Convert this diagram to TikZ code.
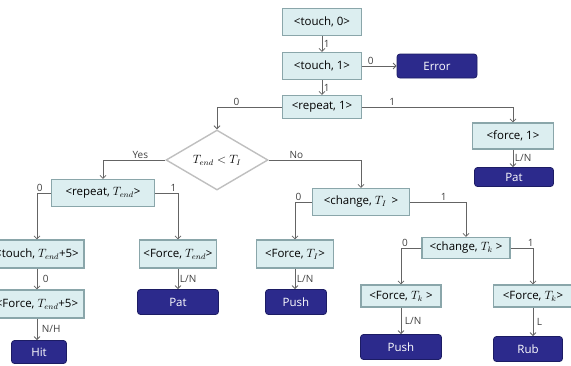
\documentclass[tikz,border=0pt]{standalone}
\usepackage{fontspec}
\setmainfont{Open Sans}
\usetikzlibrary{arrows.meta,shapes.geometric}
\definecolor{boxfill}{RGB}{220,238,240}
\definecolor{boxline}{RGB}{138,166,170}
\definecolor{termfill}{RGB}{44,42,140}
\definecolor{termline}{RGB}{28,28,100}
\definecolor{wire}{RGB}{100,100,100}

\begin{document}
\begin{tikzpicture}[
    x=1pt, y=-1pt,
    font=\fontsize{11.5}{13}\selectfont,
    state/.style={draw=boxline, fill=boxfill, line width=1.1pt, inner sep=0pt, minimum height=23pt},
    term/.style={draw=termline, fill=termfill, text=white, rounded corners=3pt, line width=0.8pt, inner sep=0pt, minimum height=24pt},
    test/.style={diamond, draw=gray!50, fill=white, line width=1.4pt, aspect=1.7, inner sep=0pt, minimum width=102pt, minimum height=60pt},
    lbl/.style={font=\fontsize{10}{12}\selectfont, text=black!75, inner sep=1.5pt},
    >={Straight Barb[length=3pt,width=6pt]}
]
  \clip (0,0) rectangle (571,365);

  % top chain
  \node[state, minimum width=79pt, minimum height=27pt] (touch0) at (322,22) {<touch, 0>};
  \node[state, minimum width=79pt, minimum height=27pt] (touch1) at (322,66) {<touch, 1>};
  \node[term, minimum width=80pt] (err) at (437,66) {Error};
  \node[state, minimum width=79pt] (rep1) at (322,107) {<repeat, 1>};
  \node[test] (dec) at (217,160) {$T_{end} < T_{I}$};
  \node[state, minimum width=81pt, minimum height=26pt] (force1) at (513,136) {<force, 1>};
  \node[term, minimum width=79pt, minimum height=19pt] (pat1) at (514,177) {Pat};

  % yes branch
  \node[state, minimum width=103pt, minimum height=27pt] (repE) at (103,193) {<repeat, $T_{end}$>};
  \node[state, minimum width=94pt, minimum height=28pt] (touchE) at (37,254) {<touch, $T_{end}$+5>};
  \node[state, minimum width=94pt, minimum height=28pt] (forceE5) at (37,304) {<Force, $T_{end}$+5>};
  \node[term, minimum width=55pt, minimum height=23pt] (hit) at (39,352) {Hit};
  \node[state, minimum width=77pt, minimum height=28pt] (forceE) at (178,254) {<Force, $T_{end}$>};
  \node[term, minimum width=81pt, minimum height=25pt] (pat2) at (178,302) {Pat};

  % no branch
  \node[state, minimum width=97pt, minimum height=27pt] (chgI) at (361,202) {<change, $T_{I}$ \,>};
  \node[state, minimum width=77pt, minimum height=28pt] (forceI) at (295,254) {<Force, $T_{I}$>};
  \node[term, minimum width=61pt, minimum height=25pt] (push1) at (296,302) {Push};
  \node[state, minimum width=88pt, minimum height=21pt] (chgK) at (466,248) {<change, $T_{k}$ >};
  \node[state, minimum width=80pt, minimum height=22pt] (forceK1) at (401,296) {<Force, $T_{k}$ >};
  \node[term, minimum width=81pt, minimum height=25pt] (push2) at (401,347) {Push};
  \node[state, minimum width=79pt, minimum height=22pt] (forceK2) at (533,296) {<Force, $T_{k}$>};
  \node[term, minimum width=69pt, minimum height=25pt] (rub) at (528,349) {Rub};

  \begin{scope}[draw=wire, line width=0.8pt]
    \draw[->] (touch0.south) -- node[lbl, right] (l1) {1} (touch1.north);
    \draw[->] (touch1.east) -- node[lbl, above, pos=0.25] (l2) {0} (err.west);
    \draw[->] (touch1.south) -- node[lbl, right] (l3) {1} (rep1.north);
    \draw[->] (rep1.west) -| node[lbl, above, pos=0.35] (l4) {0} (dec.north);
    \draw[->] (rep1.east) -| node[lbl, above, pos=0.1] (l5) {1} (force1.north);
    \draw[->] (force1.south) -- node[lbl, right] (l6) {L/N} (force1.south |- pat1.north);

    \draw[->] (dec.west) -| node[lbl, above, pos=0.2] (l7) {Yes} (repE.north);
    \draw[->] (dec.east) -| node[lbl, above, pos=0.15] (l8) {No} (chgI.north);

    \draw[->] (repE.west) -| node[lbl, above, pos=0.4] (l9) {0} (touchE.north);
    \draw[->] (repE.east) -| node[lbl, above, pos=0.4] (l10) {1} (forceE.north);
    \draw[->] (touchE.south) -- node[lbl, right, xshift=4pt] (l11) {0} (forceE5.north);
    \draw[->] (forceE5.south) -- node[lbl, right, xshift=3pt] (l12) {N/H} (forceE5.south |- hit.north);
    \draw[->] (forceE.south) -- node[lbl, right] (l13) {L/N} (pat2.north);

    \draw[->] (chgI.west) -| node[lbl, above, pos=0.4] (l14) {0} (forceI.north);
    \draw[->] (chgI.east) -| node[lbl, above, pos=0.3] (l15) {1} (chgK.north);
    \draw[->] (forceI.south) -- node[lbl, right] (l16) {L/N} (forceI.south |- push1.north);
    \draw[->] (chgK.west) -| node[lbl, above, pos=0.4] (l17) {0} (forceK1.north);
    \draw[->] (chgK.east) -| node[lbl, above, pos=0.45] (l18) {1} (forceK2.north);
    \draw[->] (forceK1.south) -- node[lbl, right, xshift=2pt] (l19) {L/N} (push2.north);
    \draw[->] (forceK2.south) -- node[lbl, right, xshift=2pt] (l20) {L} (forceK2.south |- rub.north);
  \end{scope}
\end{tikzpicture}
\end{document}
